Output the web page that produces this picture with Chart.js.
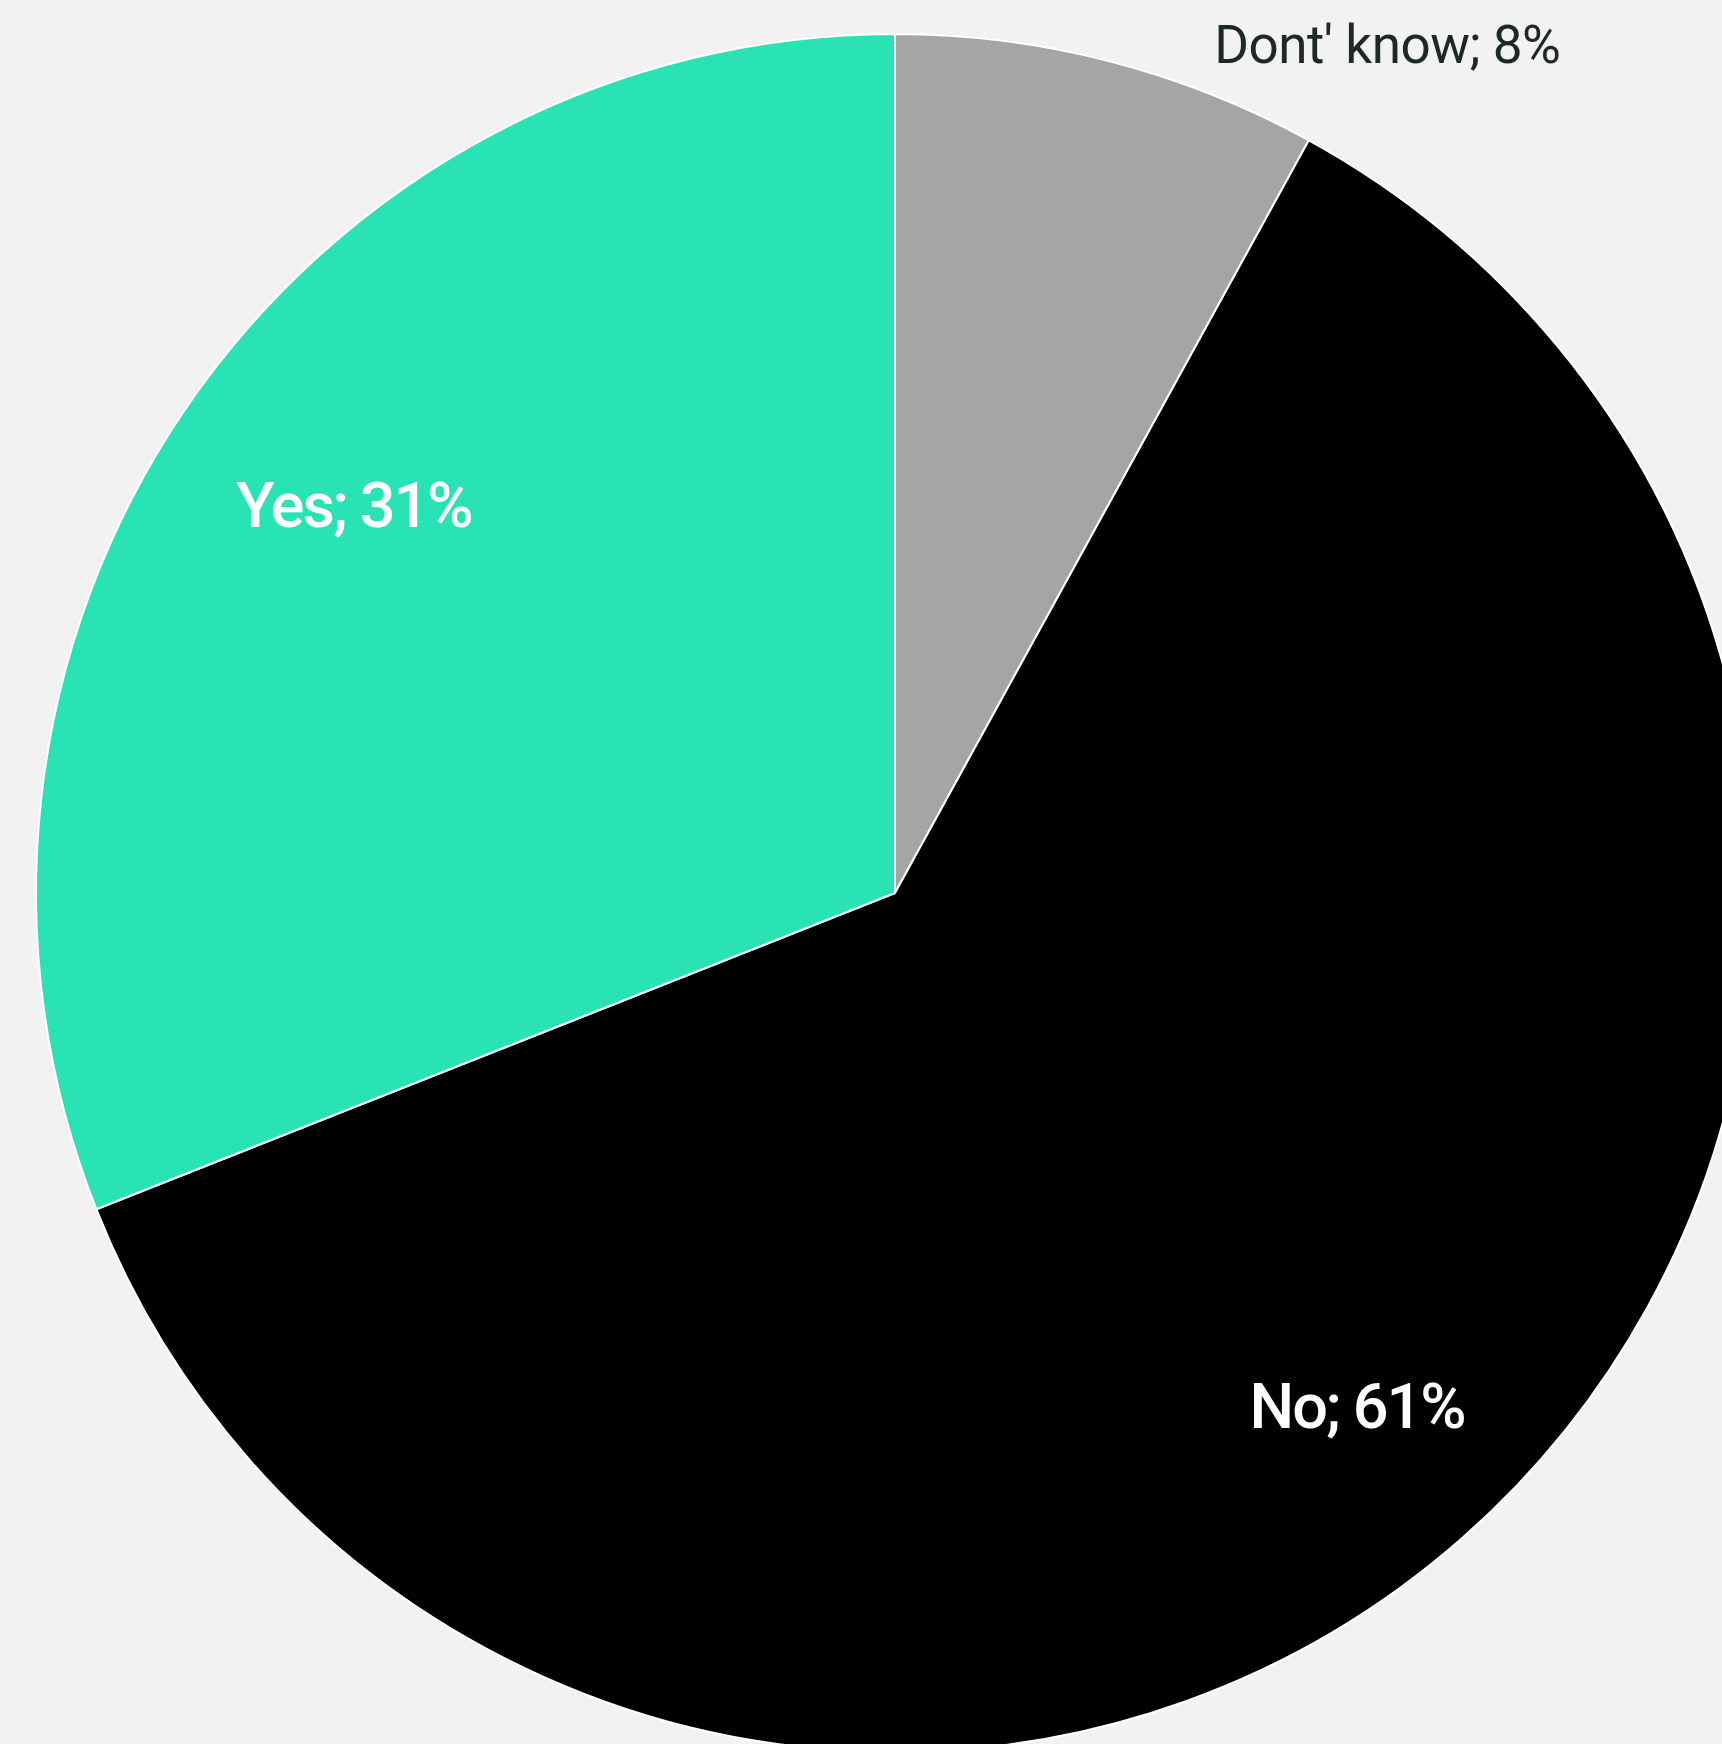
<!DOCTYPE html>
<html lang="en">
<head>
<meta charset="utf-8"/>
<title>Dont' know / No / Yes</title>
<script src="https://cdn.jsdelivr.net/npm/chart.js"></script>
<style>
    html, body { margin: 0; padding: 0; background: #f2f2f2; overflow: hidden; }
    body { width: 1722px; height: 1744px; position: relative; }
    .wrap { position: absolute; left: 0; top: 0; width: 1790px; height: 1790px; }
  </style>
</head>
<body>
<div class="wrap"><canvas id="pieChart"></canvas></div>
<script>
    const labels = ["Dont' know", 'No', 'Yes'];
    const shares = [8, 61, 31];
    const colors = ['#a5a5a5', '#000000', '#29e3b5'];

    // text for each slice, drawn on top of the arcs, centred on the capitals
    const sliceLabels = {
      id: 'sliceLabels',
      afterDatasetsDraw(chart, args, opts) {
        const ctx = chart.ctx;
        const arcs = chart.getDatasetMeta(0).data;
        arcs.forEach((arc, i) => {
          const o = opts.items[i];
          const a = arc.startAngle + (arc.endAngle - arc.startAngle) * o.t;
          const r = arc.outerRadius * o.r;
          const x = arc.x + Math.cos(a) * r;
          const y = arc.y + Math.sin(a) * r;
          ctx.save();
          ctx.font = o.font;
          ctx.letterSpacing = o.spacing;
          ctx.fillStyle = o.color;
          ctx.textAlign = 'center';
          ctx.textBaseline = 'alphabetic';
          const cap = ctx.measureText('H').actualBoundingBoxAscent;
          ctx.fillText(labels[i] + '; ' + shares[i] + '%', x, y + cap / 2);
          ctx.restore();
        });
      }
    };

    new Chart(document.getElementById('pieChart'), {
      type: 'pie',
      data: {
        labels: labels,
        datasets: [{
          data: shares,
          backgroundColor: colors,
          borderColor: '#ffffff',
          borderWidth: 2
        }]
      },
      options: {
        responsive: true,
        maintainAspectRatio: false,
        animation: false,
        layout: { padding: { left: 35, top: 33, right: 35, bottom: 37 } },
        plugins: {
          legend: { display: false },
          tooltip: { enabled: false },
          sliceLabels: {
            items: [
              { t: 1.045, r: 1.143, font: '400 53px Roboto', spacing: '-0.5px', color: '#1e2828' },
              { t: 0.497, r: 0.803, font: '500 63px Roboto', spacing: '-2px', color: '#ffffff' },
              { t: 0.513, r: 0.775, font: '500 63px Roboto', spacing: '-2px', color: '#ffffff' }
            ]
          }
        }
      },
      plugins: [sliceLabels]
    });
  </script>
</body>
</html>
